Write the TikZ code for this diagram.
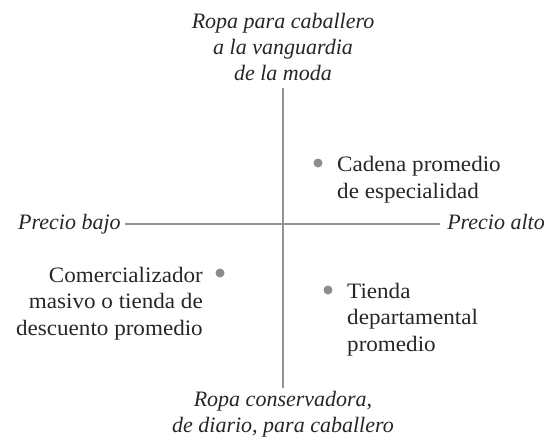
\documentclass[tikz,border=0pt]{standalone}
\usepackage{fontspec}
\setmainfont{Liberation Serif}
\newfontfamily\storefont[FakeStretch=1.05]{Liberation Serif}
\usepackage{xcolor}

\begin{document}
\begin{tikzpicture}[x=1pt,y=-1pt,
    axislabel/.style={font=\fontsize{22}{26}\selectfont\itshape, text=black!85, align=center, inner sep=0pt},
    storelabel/.style={font=\storefont\fontsize{22}{26.5}\selectfont, text=black!85, inner sep=0pt},
    axisline/.style={gray!85, line width=2pt},
    dot/.style={circle, fill=gray!90, inner sep=0pt, minimum size=9pt}]
    \useasboundingbox (0,0) rectangle (548,442);
    % ===== Axis labels (base = last line) =====
    \node[axislabel, anchor=base] (lujo) at (283,80) {Ropa para caballero\\a la vanguardia\\de la moda};
    \node[axislabel, anchor=base] (diario) at (283,432) {Ropa conservadora,\\de diario, para caballero};
    \node[axislabel, anchor=base west] (bajo) at (18,229) {Precio bajo};
    \node[axislabel, anchor=base east] (alto) at (545,229) {Precio alto};
    % Axes
    \coordinate (ytop) at (283,88);
    \coordinate (ybot) at (283,388);
    \draw[axisline] (ytop) -- (ybot);
    \draw[axisline, shorten <=4pt, shorten >=7pt] (bajo.east |- 0,224) -- (alto.west |- 0,224);
    % ===== Stores =====
    \node[dot] (cadena) at (318,163) {};
    \node[storelabel, anchor=base west, align=left] (cadenatxt) at (337,198) {Cadena promedio\\de especialidad};
    \node[dot] (masivo) at (220,273) {};
    \node[storelabel, anchor=base east, align=right] (masivotxt) at (203,335) {Comercializador\\masivo o tienda de\\descuento promedio};
    \node[dot] (tienda) at (328,290) {};
    \node[storelabel, anchor=base west, align=left] (tiendatxt) at (347,351) {Tienda\\departamental\\promedio};
\end{tikzpicture}
\end{document}
